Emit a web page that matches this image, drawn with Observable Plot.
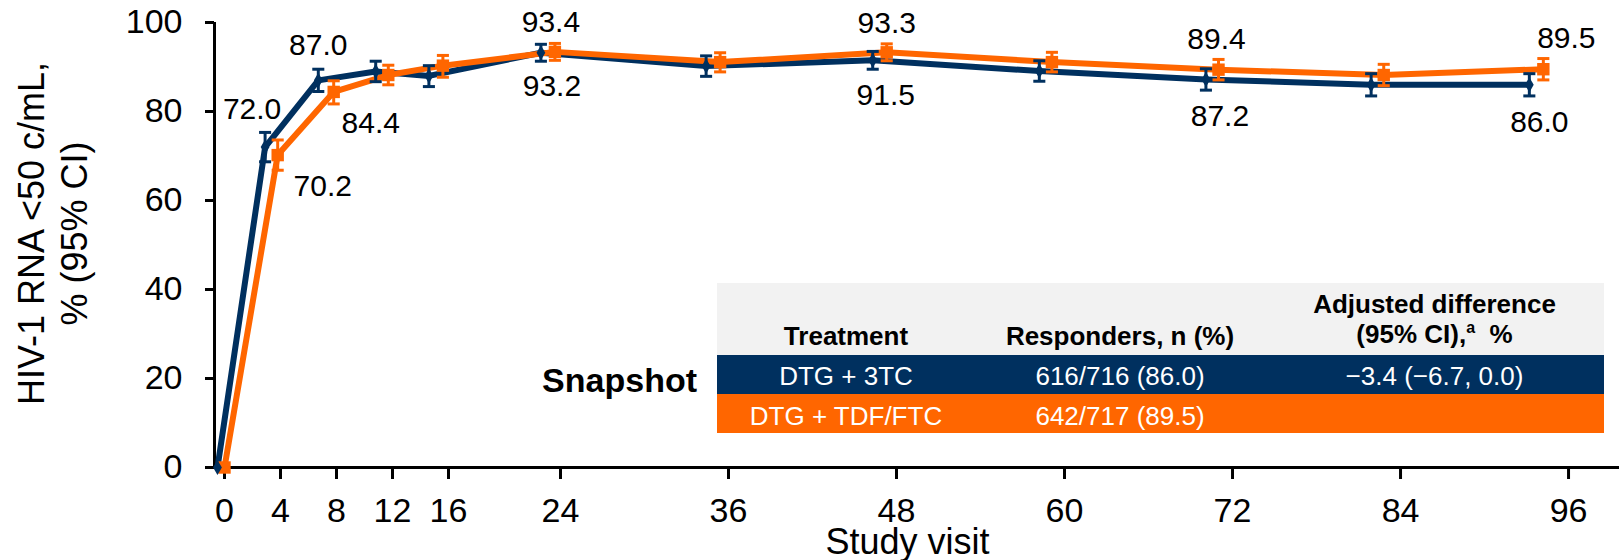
<!DOCTYPE html>
<html>
<head>
<meta charset="utf-8">
<script src="https://cdn.jsdelivr.net/npm/d3@7"></script>
<script src="https://cdn.jsdelivr.net/npm/@observablehq/plot@0.6"></script>
<style>
  html, body { margin: 0; padding: 0; background: #fff; }
  body { font-family: "Liberation Sans", Arial, sans-serif; }
  #wrap { position: relative; width: 1619px; height: 560px; overflow: hidden; }
  #wrap svg { position: absolute; left: 0; top: 0; }
  .cell { position: absolute; text-align: center; font-size: 26px; line-height: 30px; white-space: nowrap; }
  .hdr { font-weight: bold; color: #000; }
  .body { color: #fff; }
  .bg { position: absolute; }
  #snap { position: absolute; font-weight: bold; font-size: 34px; line-height: 40px; color: #000; white-space: nowrap; }
  sup { font-size: 16px; line-height: 0; vertical-align: 10px; }
</style>
</head>
<body>
<div id="wrap"></div>
<script>
// ---------- data ----------
const weeks = [0, 4, 8, 12, 16, 24, 36, 48, 60, 72, 84, 96];
const xTickLabels = [0, 4, 8, 12, 16, 24, 36, 48, 60, 72, 84, 96];
const yTickLabels = [0, 20, 40, 60, 80, 100];
const seriesNames = ["DTG + 3TC", "DTG + TDF/FTC"];

// plotted (slightly dodged) week positions of each series' markers
const dtg3tcPos = [-0.5, 2.9, 6.7, 10.8, 14.6, 22.6, 34.4, 46.3, 58.2, 70.1, 81.9, 93.2];
const tdfPos    = [0.0, 3.8, 7.8, 11.7, 15.6, 23.6, 35.4, 47.3, 59.1, 71.0, 82.8, 94.2];

// % HIV-1 RNA <50 c/mL
const dtg3tcValues = [0, 72.0, 87.0, 89.0, 88.0, 93.2, 90.2, 91.5, 89.1, 87.2, 86.0, 86.0];
const tdfValues    = [0, 70.2, 84.4, 88.2, 90.3, 93.4, 91.1, 93.3, 91.1, 89.4, 88.2, 89.5];

// 95% CI bounds
const dtg3tcLow  = [0, 68.7, 84.5, 86.7, 85.6, 91.3, 87.9, 89.5, 86.8, 84.8, 83.5, 83.5];
const dtg3tcHigh = [0, 75.3, 89.5, 91.3, 90.3, 95.1, 92.5, 93.5, 91.4, 89.6, 88.5, 88.5];
const tdfLow     = [0, 66.8, 81.7, 86.0, 87.7, 91.5, 88.9, 91.4, 88.9, 87.1, 85.8, 87.1];
const tdfHigh    = [0, 73.6, 86.9, 90.4, 92.6, 95.3, 93.2, 95.2, 93.3, 91.7, 90.6, 91.9];

// data labels (weeks that carry a value label)
const dtg3tcLabelWeeks = [4, 8, 24, 48, 72, 96];
const tdfLabelWeeks    = [4, 8, 24, 48, 72, 96];

// table
const tableHeaders = ["Treatment", "Responders, n (%)", "Adjusted difference<br>(95% CI),<sup>a</sup>&nbsp; %"];
const tableResponders = ["616/716 (86.0)", "642/717 (89.5)"];
const tableDifference = ["\u22123.4 (\u22126.7, 0.0)", ""];
const tableTitle = "Snapshot";

const yTitle = "HIV-1 RNA <50 c/mL,\n% (95% CI)";
const xTitle = "Study visit";

// ---------- styling ----------
const NAVY = "#00305F";
const ORANGE = "#FF6600";
const FONT = "'Liberation Sans', Arial, sans-serif";

const mk = (pos, vals, lo, hi, series) => weeks.map((w, i) => ({week: w, pos: pos[i], v: vals[i], lo: lo[i], hi: hi[i], series}));
const navy = mk(dtg3tcPos, dtg3tcValues, dtg3tcLow, dtg3tcHigh, seriesNames[0]);
const orange = mk(tdfPos, tdfValues, tdfLow, tdfHigh, seriesNames[1]);
const ci = d => d.week !== 0;

const capSymbol = { draw(ctx, size) { const w = Math.sqrt(size) / 2; ctx.moveTo(-w, 0); ctx.lineTo(w, 0); } };
const capR = 6.8;

// label offsets (screen px) per week for each series
const navyLabelOffsets = {4: [-13, -38], 8: [0, -35], 24: [11, 34], 48: [13, 35], 72: [14, 37], 96: [10, 38]};
const orangeLabelOffsets = {4: [45, 31], 8: [37, 31], 24: [-4, -29], 48: [0, -29], 72: [-2, -30], 96: [23, -31]};

function labelMarks(data, labelWeeks, offsets) {
  return labelWeeks.map(w => Plot.text(data.filter(d => d.week === w), {
    x: "pos", y: "v", text: d => d.v.toFixed(1),
    dx: offsets[w][0], dy: offsets[w][1],
    fontSize: 30, fill: "#000", textAnchor: "middle", lineAnchor: "middle"
  }));
}

const xDomain = [-0.714, 99.64];

const chart = Plot.plot({
  width: 1619,
  height: 560,
  marginLeft: 214,
  marginRight: 0,
  marginTop: 22,
  marginBottom: 93,
  style: { fontFamily: FONT, background: "transparent", color: "#000", overflow: "visible" },
  x: { domain: xDomain },
  y: { domain: [0, 100] },
  marks: [
    // axes
    Plot.ruleY([0], { stroke: "#000", strokeWidth: 3 }),
    Plot.ruleX([xDomain[0]], { y1: 0, y2: 100, stroke: "#000", strokeWidth: 3 }),
    Plot.axisY(yTickLabels, { tickSize: 9, tickPadding: 23, fontSize: 34, strokeWidth: 3, label: null, stroke: "#000" }),
    Plot.axisX(xTickLabels, { tickSize: 12, tickPadding: 18, fontSize: 34, strokeWidth: 3, label: null, stroke: "#000" }),
    // lines
    Plot.line(navy, { x: "pos", y: "v", stroke: NAVY, strokeWidth: 6 }),
    Plot.line(orange, { x: "pos", y: "v", stroke: ORANGE, strokeWidth: 6 }),
    // error bars
    Plot.ruleX(navy.filter(ci), { x: "pos", y1: "lo", y2: "hi", stroke: NAVY, strokeWidth: 3 }),
    Plot.dot(navy.filter(ci), { x: "pos", y: "lo", symbol: capSymbol, r: capR, stroke: NAVY, fill: "none", strokeWidth: 3 }),
    Plot.dot(navy.filter(ci), { x: "pos", y: "hi", symbol: capSymbol, r: capR, stroke: NAVY, fill: "none", strokeWidth: 3 }),
    Plot.ruleX(orange.filter(ci), { x: "pos", y1: "lo", y2: "hi", stroke: ORANGE, strokeWidth: 3 }),
    Plot.dot(orange.filter(ci), { x: "pos", y: "lo", symbol: capSymbol, r: capR, stroke: ORANGE, fill: "none", strokeWidth: 3 }),
    Plot.dot(orange.filter(ci), { x: "pos", y: "hi", symbol: capSymbol, r: capR, stroke: ORANGE, fill: "none", strokeWidth: 3 }),
    // markers
    Plot.dot(orange, { x: "pos", y: "v", symbol: "square", r: 7, fill: ORANGE, stroke: "none" }),
    Plot.dot(navy, { x: "pos", y: "v", symbol: "diamond", r: 4.6, fill: NAVY, stroke: "none" }),
    // value labels
    ...labelMarks(navy, dtg3tcLabelWeeks, navyLabelOffsets),
    ...labelMarks(orange, tdfLabelWeeks, orangeLabelOffsets),
    // axis titles
    Plot.text([yTitle], { text: d => d, frameAnchor: "left", rotate: -90, dx: -162.5, dy: -11.5,
      fontSize: 36, lineHeight: 1.2, textAnchor: "middle", lineAnchor: "middle", fill: "#000" }),
    Plot.text([xTitle], { text: d => d, frameAnchor: "bottom", dx: -9.5, dy: 61,
      fontSize: 36, textAnchor: "middle", lineAnchor: "top", fill: "#000" })
  ]
});

const wrap = document.getElementById("wrap");
wrap.appendChild(chart);

// ---------- table (HTML overlay) ----------
const cols = [ {left: 717, width: 258}, {left: 975, width: 290}, {left: 1265, width: 339} ];
const tableLeft = 717, tableRight = 1604;
const rowsBg = [
  {top: 283, height: 72, color: "#F2F2F2"},
  {top: 355, height: 39, color: NAVY},
  {top: 394, height: 39, color: ORANGE}
];
const w = d3.select(wrap);
rowsBg.forEach(r => {
  w.append("div").attr("class", "bg")
    .style("left", tableLeft + "px").style("top", r.top + "px")
    .style("width", (tableRight - tableLeft) + "px").style("height", r.height + "px")
    .style("background", r.color);
});
const headerTops = [321, 321, 289];
tableHeaders.forEach((h, i) => {
  w.append("div").attr("class", "cell hdr")
    .style("left", cols[i].left + "px").style("width", cols[i].width + "px")
    .style("top", headerTops[i] + "px").html(h);
});
const bodyTops = [361, 401];
seriesNames.forEach((name, r) => {
  [name, tableResponders[r], tableDifference[r]].forEach((t, i) => {
    w.append("div").attr("class", "cell body")
      .style("left", cols[i].left + "px").style("width", cols[i].width + "px")
      .style("top", bodyTops[r] + "px").text(t);
  });
});
w.append("div").attr("id", "snap")
  .style("right", (1619 - 697) + "px").style("top", "360px").text(tableTitle);
</script>
</body>
</html>
